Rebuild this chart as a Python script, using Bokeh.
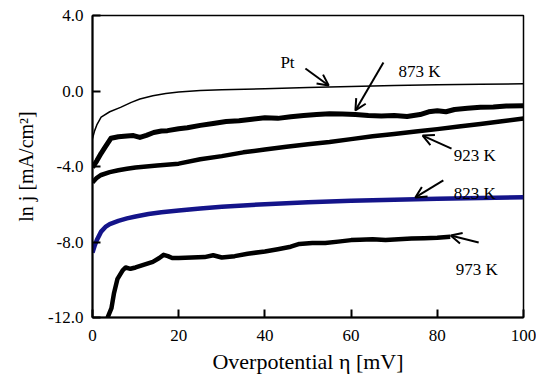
from bokeh.plotting import figure
from bokeh.models import Arrow, OpenHead, Label, PrintfTickFormatter, FixedTicker, Range1d
from bokeh.embed import file_html
from bokeh.resources import INLINE

# ---------------- data ----------------
pt_x = [0, 0.5, 1, 2, 4, 6.5, 9, 11, 14, 17, 20, 25, 30, 40, 50, 60, 70, 80, 90, 100]
pt_y = [-2.52, -2.1, -1.8, -1.38, -1.1, -0.87, -0.6, -0.42, -0.25, -0.13, -0.05, 0.02, 0.07,
        0.12, 0.18, 0.24, 0.29, 0.33, 0.36, 0.38]

k873_x = [0, 1, 2, 3, 4.3, 6, 8, 9.5, 11, 12.5, 14.2, 16, 17.4, 20, 22, 25, 28, 31, 34, 37, 40,
          43, 46, 49, 52, 55, 58, 61, 64, 67, 70, 73, 76, 78, 80, 82, 84, 87, 90, 93, 96, 100]
k873_y = [-4.05, -3.7, -3.3, -2.95, -2.5, -2.42, -2.38, -2.36, -2.46, -2.35, -2.2, -2.12, -2.1,
          -2.0, -1.95, -1.82, -1.72, -1.62, -1.58, -1.5, -1.42, -1.45, -1.36, -1.3, -1.25, -1.2,
          -1.22, -1.25, -1.3, -1.32, -1.3, -1.35, -1.25, -1.1, -1.05, -1.1, -0.98, -0.92, -0.86,
          -0.85, -0.8, -0.78]

k923_x = [0, 1, 2, 4, 6, 8, 10, 15, 20, 25, 30, 35, 40, 45, 50, 55, 60, 65, 70, 75, 80, 85, 90, 95, 100]
k923_y = [-4.85, -4.6, -4.45, -4.3, -4.2, -4.12, -4.05, -3.95, -3.85, -3.62, -3.45, -3.25, -3.1,
          -2.95, -2.82, -2.7, -2.55, -2.4, -2.28, -2.15, -2.02, -1.88, -1.75, -1.6, -1.46]

k823_x = [0, 0.5, 1, 2, 3, 4, 6, 8, 10, 13, 16, 20, 25, 30, 35, 40, 50, 60, 70, 80, 90, 100]
k823_y = [-8.56, -8.2, -7.9, -7.45, -7.2, -7.05, -6.88, -6.75, -6.65, -6.52, -6.42, -6.33, -6.22,
          -6.13, -6.06, -6.0, -5.9, -5.82, -5.76, -5.71, -5.67, -5.63]

k973_x = [3.5, 4.4, 5.0, 5.8, 7.0, 7.7, 8.8, 10, 12, 14, 15.5, 16.5, 17.5, 18.5, 20, 23, 26, 28,
          30, 33, 36, 40, 43, 46, 48, 51, 54, 57, 60, 62, 65, 68, 71, 74, 77, 80, 83]
k973_y = [-12.0, -11.5, -10.7, -9.95, -9.5, -9.35, -9.42, -9.35, -9.2, -9.05, -8.85, -8.68, -8.75,
          -8.85, -8.85, -8.82, -8.8, -8.7, -8.82, -8.75, -8.62, -8.5, -8.38, -8.25, -8.1, -8.05,
          -8.05, -7.98, -7.9, -7.88, -7.85, -7.9, -7.85, -7.82, -7.8, -7.78, -7.72]

x_ticks = [0, 20, 40, 60, 80, 100]
y_ticks = [-12.0, -8.0, -4.0, 0.0, 4.0]

x_title = "Overpotential η [mV]"
y_title = "ln j [mA/cm²]"

# annotation labels: text, text x, text y, arrow start x, y, arrow end x, y
ann_text = ["Pt", "873 K", "923 K", "823 K", "973 K"]
ann_tx = [43.6, 71.0, 83.8, 83.8, 84.3]
ann_ty = [1.5, 1.03, -3.42, -5.43, -9.45]
arr_x0 = [49.4, 67.5, 83.3, 81.4, 89.6]
arr_y0 = [1.19, 1.51, -3.05, -4.74, -8.03]
arr_x1 = [54.8, 61.0, 76.6, 74.9, 83.1]
arr_y1 = [0.29, -1.03, -2.36, -5.64, -7.66]

FONT = "Liberation Serif"

p = figure(width=536, height=379, output_backend="svg", toolbar_location=None,
           x_range=Range1d(0, 100), y_range=Range1d(-12, 4),
           min_border_left=92, min_border_right=13, min_border_top=15, min_border_bottom=62)
p.background_fill_color = "white"
p.border_fill_color = "white"
p.grid.visible = False
p.outline_line_color = "black"
p.outline_line_width = 1.5

p.line(pt_x, pt_y, line_color="black", line_width=1.5, line_join="round")
p.line(k873_x, k873_y, line_color="black", line_width=5, line_join="round")
p.line(k923_x, k923_y, line_color="black", line_width=4.5, line_join="round")
p.line(k823_x, k823_y, line_color="#14148a", line_width=4.5, line_join="round")
p.line(k973_x, k973_y, line_color="black", line_width=4.5, line_join="round")

for i in range(len(ann_text)):
    p.add_layout(Arrow(end=OpenHead(size=11, line_width=2, line_color="black"),
                       x_start=arr_x0[i], y_start=arr_y0[i], x_end=arr_x1[i], y_end=arr_y1[i],
                       line_width=2, line_color="black"))
    p.add_layout(Label(x=ann_tx[i], y=ann_ty[i], text=ann_text[i], text_font=FONT,
                       text_font_size="17px", text_color="black", text_baseline="alphabetic"))

for ax in (p.xaxis[0], p.yaxis[0]):
    ax.axis_line_width = 2
    ax.axis_line_color = "black"
    ax.major_tick_in = 8
    ax.major_tick_out = 0
    ax.major_tick_line_width = 2
    ax.minor_tick_line_color = None
    ax.major_label_text_font = FONT
    ax.major_label_text_font_size = "17px"
    ax.major_label_text_color = "black"
    ax.axis_label_text_font = FONT
    ax.axis_label_text_font_style = "normal"
    ax.axis_label_text_color = "black"

p.xaxis[0].axis_label_text_font_size = "22px"
p.yaxis[0].axis_label_text_font_size = "20px"
p.xaxis[0].ticker = FixedTicker(ticks=x_ticks)
p.yaxis[0].ticker = FixedTicker(ticks=y_ticks)
p.yaxis[0].formatter = PrintfTickFormatter(format="%.1f")
p.xaxis[0].major_label_standoff = 12
p.yaxis[0].major_label_standoff = 9
p.xaxis[0].axis_label = x_title
p.yaxis[0].axis_label = y_title
p.xaxis[0].axis_label_standoff = 5
p.yaxis[0].axis_label_standoff = 8

open("out.html", "w").write(file_html(p, INLINE))
